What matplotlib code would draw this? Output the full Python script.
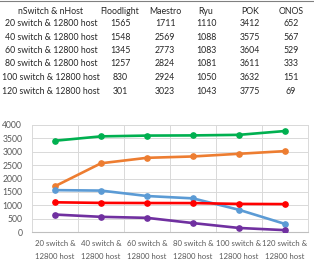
import matplotlib
matplotlib.use("Agg")
import matplotlib.pyplot as plt
from matplotlib.lines import Line2D

categories = ["20 switch & 12800 host", "40 switch & 12800 host", "60 switch & 12800 host",
              "80 switch & 12800 host", "100 switch & 12800 host", "120 switch & 12800 host"]
xtick_labels = ["20 switch &\n12800 host", "40 switch &\n12800 host", "60 switch &\n12800 host",
                "80 switch &\n12800 host", "100 switch &\n12800 host", "120 switch &\n12800 host"]
header = ["nSwitch & nHost", "Floodlight", "Maestro", "Ryu", "POK", "ONOS"]
floodlight = [1565, 1548, 1345, 1257, 830, 301]
maestro = [1711, 2569, 2773, 2824, 2924, 3023]
ryu = [1110, 1088, 1083, 1081, 1050, 1043]
pok = [3412, 3575, 3604, 3611, 3632, 3775]
onos = [652, 567, 529, 333, 151, 69]

plt.rcParams['font.family'] = ['Lato', 'DejaVu Sans']

W, H = 314, 264
fig = plt.figure(figsize=(W / 100, H / 100), dpi=100)

def fx(px):
    return px / W

def fy(py):
    return 1 - py / H

# table
fig.add_artist(Line2D([0, 1], [fy(1), fy(1)], color="#808080", lw=0.8))
col_x = [51, 120, 165, 206, 250, 291]
row_y = [11, 24, 37, 51, 64, 77, 91]
tcol = "#262626"
fs_t = 6.3
for j, h in enumerate(header):
    fig.text(fx(col_x[j]), fy(row_y[0]), h, ha="center", va="center", fontsize=fs_t, color=tcol)
series_cols = [floodlight, maestro, ryu, pok, onos]
for i, cat in enumerate(categories):
    y = fy(row_y[i + 1])
    fig.text(fx(col_x[0]), y, cat, ha="center", va="center", fontsize=fs_t, color=tcol)
    for j, s in enumerate(series_cols):
        fig.text(fx(col_x[j + 1]), y, str(s[i]), ha="center", va="center", fontsize=fs_t, color=tcol)

# chart
ax = fig.add_axes([fx(32), fy(232), fx(308) - fx(32), fy(125) - fy(232)])
x = list(range(len(categories)))
series = [
    (pok, "#00B050"),
    (maestro, "#ED7D31"),
    (floodlight, "#5B9BD5"),
    (ryu, "#FF0000"),
    (onos, "#7030A0"),
]
for vals, c in series:
    ax.plot(x, vals, color=c, lw=1.9, marker="o", markersize=3.8, zorder=3)

ax.set_xlim(-0.5, 5.5)
ax.set_ylim(0, 4000)
ax.set_yticks(range(0, 4001, 500))
ax.set_xticks(x)
ax.set_xticklabels(xtick_labels, fontsize=5.6, color="#595959", linespacing=1.9)
ax.tick_params(axis="y", labelsize=6.2, labelcolor="#595959", length=0, pad=7)
ax.tick_params(axis="x", length=0, pad=6)
for b in [0.5, 1.5, 2.5, 3.5, 4.5]:
    ax.axvline(b, color="#D9D9D9", lw=0.7, zorder=1)
ax.grid(axis="y", color="#D9D9D9", lw=0.7, zorder=1)
ax.set_axisbelow(True)
for side in ["left", "right", "top"]:
    ax.spines[side].set_color("#D9D9D9")
    ax.spines[side].set_linewidth(0.7)
ax.spines["bottom"].set_color("#BFBFBF")
ax.spines["bottom"].set_linewidth(0.8)

fig.savefig("out.png", dpi=100)
